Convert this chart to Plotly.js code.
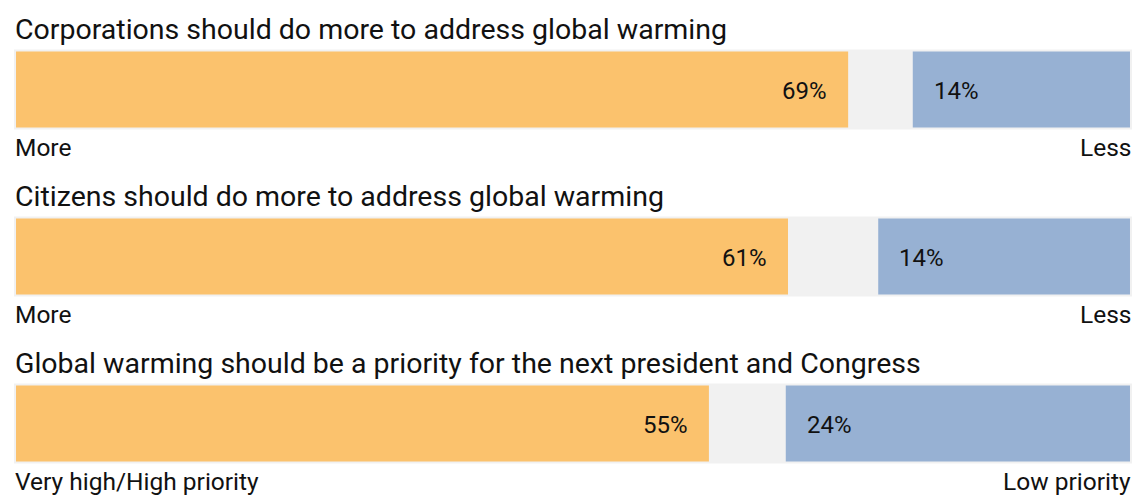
<!DOCTYPE html>
<html>
<head>
<meta charset="utf-8">
<script src="https://cdn.plot.ly/plotly-3.0.1.min.js"></script>
<style>
  html, body { margin: 0; padding: 0; background: #ffffff; }
  #chart { width: 1140px; height: 495px; }
</style>
</head>
<body>
<div id="chart"></div>
<script>
// ---- data ----
const questions = [
  "Corporations should do more to address global warming",
  "Citizens should do more to address global warming",
  "Global warming should be a priority for the next president and Congress"
];
const leftLabels = ["More", "More", "Very high/High priority"];
const rightLabels = ["Less", "Less", "Low priority"];
const morePct = [69, 61, 55];          // printed value, left segment
const lessPct = [14, 14, 24];          // printed value, right segment
const moreBar = [74.7, 69.3, 62.2];    // drawn length of left segment (share of full bar)
const lessBar = [19.5, 22.6, 30.9];    // drawn length of right segment (share of full bar)
const fullBar = [100, 100, 100];

// ---- styles ----
const ORANGE = "#FBC26D";
const BLUE = "#97B1D3";
const TRACK = "#F1F1F1";
const TEXT = "#111111";
const FONT = "Roboto, 'Noto Sans', Arial, sans-serif";
const BAR_W = 0.455;

const traces = [
  {
    type: "bar", orientation: "h", y: questions, x: fullBar, base: 0,
    width: BAR_W, marker: { color: TRACK, line: { color: TRACK, width: 4 } },
    hoverinfo: "skip", showlegend: false, cliponaxis: false
  },
  {
    type: "bar", orientation: "h", y: questions, x: moreBar, base: 0,
    width: BAR_W, marker: { color: ORANGE, line: { width: 0 } },
    hoverinfo: "skip", showlegend: false
  },
  {
    type: "bar", orientation: "h", y: questions, x: lessBar,
    base: lessBar.map(v => 100 - v),
    width: BAR_W, marker: { color: BLUE, line: { width: 0 } },
    hoverinfo: "skip", showlegend: false
  }
];

const annotations = [];
questions.forEach((q, i) => {
  annotations.push({
    text: q, x: 0, xref: "x", y: q, yref: "y", xanchor: "left", yanchor: "middle",
    xshift: -3, yshift: 60, showarrow: false, font: { family: FONT, size: 28.5, color: TEXT }
  });
  annotations.push({
    text: leftLabels[i], x: 0, xref: "x", y: q, yref: "y", xanchor: "left", yanchor: "middle",
    xshift: -3, yshift: -57.5, showarrow: false, font: { family: FONT, size: 24.5, color: TEXT }
  });
  annotations.push({
    text: rightLabels[i], x: 100, xref: "x", y: q, yref: "y", xanchor: "right", yanchor: "middle",
    xshift: 3, yshift: -57.5, showarrow: false, font: { family: FONT, size: 24.5, color: TEXT }
  });
  annotations.push({
    text: morePct[i] + "%", x: moreBar[i], xref: "x", y: q, yref: "y", xanchor: "right", yanchor: "middle",
    xshift: -19, yshift: -1, showarrow: false, font: { family: FONT, size: 24, color: TEXT }
  });
  annotations.push({
    text: lessPct[i] + "%", x: 100 - lessBar[i], xref: "x", y: q, yref: "y", xanchor: "left", yanchor: "middle",
    xshift: 19, yshift: -1, showarrow: false, font: { family: FONT, size: 24, color: TEXT }
  });
});

const layout = {
  width: 1140, height: 495,
  margin: { l: 14, r: 8, t: 0, b: 0, pad: 0 },
  paper_bgcolor: "#ffffff", plot_bgcolor: "#ffffff",
  barmode: "overlay",
  showlegend: false,
  xaxis: { range: [-0.18, 100.18], visible: false, fixedrange: true },
  yaxis: {
    type: "category", categoryorder: "array", categoryarray: questions,
    range: [2.428, -0.536], visible: false, fixedrange: true
  },
  annotations: annotations,
  font: { family: FONT, color: TEXT }
};

Plotly.newPlot("chart", traces, layout, { displayModeBar: false, staticPlot: true });
</script>
</body>
</html>
